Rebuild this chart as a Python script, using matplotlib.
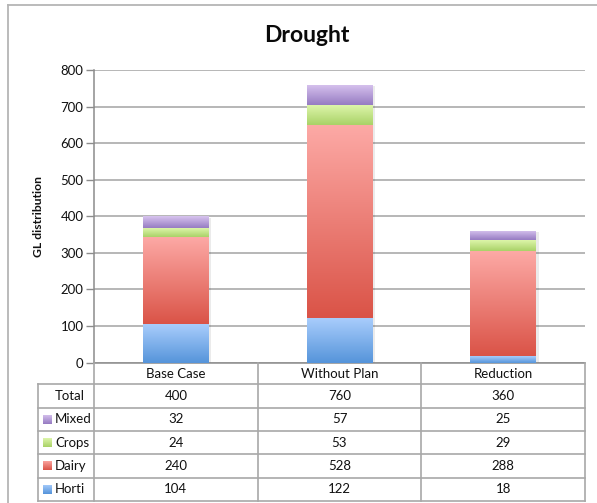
import numpy as np
import matplotlib
matplotlib.use("Agg")
import matplotlib.pyplot as plt
from matplotlib.colors import LinearSegmentedColormap
from matplotlib.lines import Line2D
import matplotlib.patheffects as pe

# ---- data ----
categories = ["Base Case", "Without Plan", "Reduction"]
horti = [104, 122, 18]
dairy = [240, 528, 288]
crops = [24, 53, 29]
mixed = [32, 57, 25]
totals = [400, 760, 360]
series_names = ["Horti", "Dairy", "Crops", "Mixed"]
yticks = [0, 100, 200, 300, 400, 500, 600, 700, 800]

# (top colour, bottom colour) gradients
grad = {
    "Horti": ("#a9cdfc", "#5594da"),
    "Dairy": ("#fdaaa6", "#da5347"),
    "Crops": ("#ddf5aa", "#a9d267"),
    "Mixed": ("#d8c4ef", "#967bc2"),
}

plt.rcParams["font.family"] = ["Lato", "DejaVu Sans"]

W, H = 597, 503
fig = plt.figure(figsize=(W / 100, H / 100), dpi=100)

def fx(px):
    return px / W

def fy(py):
    return 1 - py / H

ax_l, ax_r, ax_t, ax_b = 94, 585, 70, 362.5
ax = fig.add_axes([fx(ax_l), fy(ax_b), fx(ax_r - ax_l), (ax_b - ax_t) / H])

x = np.arange(len(categories))
ax.set_xlim(-0.5, len(categories) - 0.5)
ax.set_ylim(0, 800)

gcol = "#a3a3a3"
ax.set_yticks(yticks)
ax.yaxis.grid(True, color=gcol, lw=1.1)
ax.set_axisbelow(True)
ax.set_xticks([])
for s in ["top", "right"]:
    ax.spines[s].set_visible(False)
ax.spines["left"].set_color("#8c8c8c")
ax.spines["bottom"].set_color("#8c8c8c")
ax.spines["left"].set_linewidth(1.1)
ax.spines["bottom"].set_linewidth(1.1)
ax.tick_params(axis="y", length=6, width=1.0, color="#8c8c8c", pad=1.5,
               labelsize=9.5, labelcolor="#111111")

ax.set_ylabel("GL distribution", fontsize=8.7, fontweight="bold",
              color="#111111", labelpad=12)

def gradient_fill(ax, patch, ctop, cbot, zorder):
    cmap = LinearSegmentedColormap.from_list("g", [cbot, ctop])
    g = np.linspace(0, 1, 256).reshape(-1, 1)
    bx0, by0 = patch.get_x(), patch.get_y()
    bw, bh = patch.get_width(), patch.get_height()
    im = ax.imshow(g, extent=(bx0, bx0 + bw, by0, by0 + bh), origin="lower",
                   cmap=cmap, aspect="auto", zorder=zorder,
                   interpolation="bicubic")
    im.set_clip_path(patch)

values = {"Horti": horti, "Dairy": dairy, "Crops": crops, "Mixed": mixed}
bw = 0.40
bottom = np.zeros(len(categories))
shadow = [pe.SimplePatchShadow(offset=(2, -1), shadow_rgbFace="#000000",
                               alpha=0.08), pe.Normal()]
all_bars = []
for name in series_names:
    vals = np.array(values[name], dtype=float)
    bars = ax.bar(x, vals, bw, bottom=bottom, color="white", edgecolor="none",
                  zorder=2, path_effects=shadow)
    all_bars.append((name, bars))
    bottom += vals
for name, bars in all_bars:
    for p in bars:
        gradient_fill(ax, p, grad[name][0], grad[name][1], zorder=3)
ax.set_xlim(-0.5, len(categories) - 0.5)
ax.set_ylim(0, 800)

# title
fig.text(fx(307), fy(36), "Drought", ha="center", va="center",
         fontsize=16.5, fontweight="bold", color="#0a0a0a")

# ---- data table ----
tcol = "#a8a8a8"
tlw = 1.2
bounds = [-0.5 + i for i in range(len(categories) + 1)]
disp = ax.transData.transform([(b, 0) for b in bounds])
colx = [d[0] for d in disp]  # pixels from left (dpi=100, no tight bbox)
tab_left = 38.3
hdr_top, hdr_bot = ax_b, 384.3
row_h = 23.3
row_labels = ["Total", "Mixed", "Crops", "Dairy", "Horti"]
row_vals = [totals, mixed, crops, dairy, horti]
n_rows = len(row_labels)
tab_bot = hdr_bot + n_rows * row_h

def hline(y, x0, x1):
    fig.add_artist(Line2D([fx(x0), fx(x1)], [fy(y), fy(y)], color=tcol,
                          lw=tlw, transform=fig.transFigure))

def vline(xp, y0, y1):
    fig.add_artist(Line2D([fx(xp), fx(xp)], [fy(y0), fy(y1)], color=tcol,
                          lw=tlw, transform=fig.transFigure))

for k in range(n_rows + 1):
    hline(hdr_bot + k * row_h, tab_left, colx[-1])
vline(tab_left, hdr_bot, tab_bot)
for cx in colx:
    vline(cx, hdr_top, tab_bot)

tfs = 9.5
tc = "#111111"
for i, cat in enumerate(categories):
    cxm = (colx[i] + colx[i + 1]) / 2
    fig.text(fx(cxm), fy((hdr_top + hdr_bot) / 2 + 0.5), cat, ha="center",
             va="center", fontsize=tfs, color=tc)

for r, (lab, vals) in enumerate(zip(row_labels, row_vals)):
    yc = hdr_bot + (r + 0.5) * row_h
    fig.text(fx(55), fy(yc), lab, ha="left", va="center", fontsize=tfs,
             color=tc)
    if lab in grad:
        kax = fig.add_axes([fx(42.7), fy(yc + 4.5), 9 / W, 9 / H])
        cmap = LinearSegmentedColormap.from_list("k", [grad[lab][1],
                                                       grad[lab][0]])
        kax.imshow(np.linspace(0, 1, 32).reshape(-1, 1), origin="lower",
                   cmap=cmap, aspect="auto")
        kax.axis("off")
    for i, v in enumerate(vals):
        cxm = (colx[i] + colx[i + 1]) / 2
        fig.text(fx(cxm), fy(yc), str(v), ha="center", va="center",
                 fontsize=tfs, color=tc)

# chart area border (left and top visible)
bcol = "#b5b5b5"
fig.add_artist(Line2D([fx(8.3), fx(8.3)], [fy(5), 0], color=bcol, lw=1.3,
                      transform=fig.transFigure))
fig.add_artist(Line2D([fx(8.3), 1], [fy(5), fy(5)], color=bcol, lw=1.3,
                      transform=fig.transFigure))

fig.savefig("out.png", dpi=100, facecolor="white")
